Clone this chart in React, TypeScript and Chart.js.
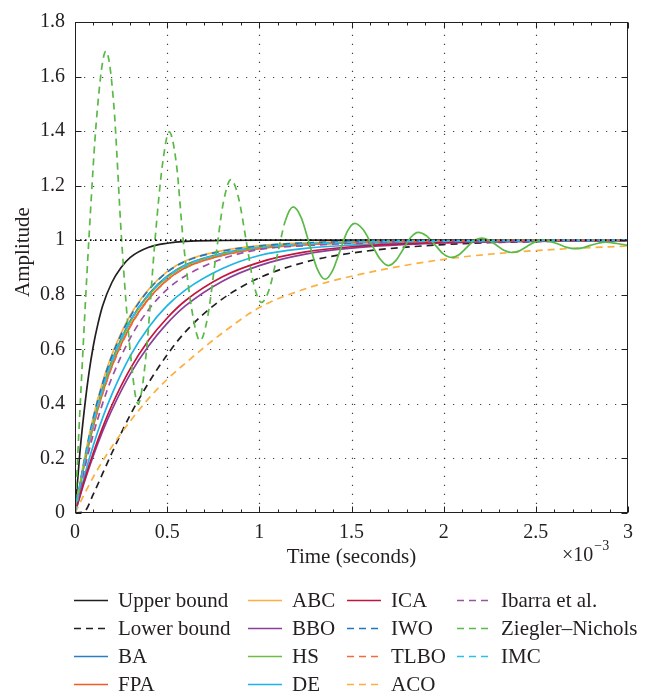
import React, { useEffect, useRef } from "react";
import { Chart, registerables } from "chart.js";

Chart.register(...registerables);

// ---------- data (time in ms, i.e. ×10^-3 s) ----------
const timeMs = [0, 0.05, 0.1, 0.15, 0.2, 0.3, 0.4, 0.5, 0.6, 0.8, 1.0, 1.25, 1.5, 2.0, 2.5, 3.0];

const upperTime = [0, 0.025, 0.05, 0.075, 0.1, 0.125, 0.15, 0.2, 0.25, 0.3, 0.4, 0.5, 0.6, 0.8, 1.0, 3.0];
const upperBound = [0, 0.21, 0.375, 0.51, 0.615, 0.695, 0.76, 0.845, 0.9, 0.937, 0.974, 0.989, 0.996, 0.999, 1, 1];

const lowerBound = [0, 0.005, 0.07, 0.145, 0.22, 0.36, 0.478, 0.58, 0.665, 0.785, 0.862, 0.92, 0.953, 0.984, 0.995, 0.998];
const ba = [0, 0.185, 0.335, 0.458, 0.558, 0.705, 0.803, 0.868, 0.91, 0.952, 0.975, 0.987, 0.993, 0.997, 0.999, 1.0];
const fpa = [0, 0.176, 0.32, 0.44, 0.538, 0.686, 0.786, 0.855, 0.9, 0.945, 0.97, 0.984, 0.991, 0.997, 0.999, 1.0];
const abc = [0, 0.195, 0.355, 0.48, 0.58, 0.725, 0.82, 0.885, 0.925, 0.962, 0.98, 0.99, 0.995, 0.998, 0.999, 1.0];
const bbo = [0, 0.112, 0.211, 0.3, 0.378, 0.51, 0.613, 0.695, 0.76, 0.85, 0.907, 0.949, 0.971, 0.99, 0.996, 0.999];
const hs = [0, 0.18, 0.33, 0.452, 0.552, 0.7, 0.798, 0.864, 0.907, 0.95, 0.973, 0.986, 0.992, 0.997, 0.999, 1.0];
const de = [0, 0.133, 0.249, 0.349, 0.435, 0.576, 0.681, 0.76, 0.818, 0.896, 0.944, 0.97, 0.982, 0.993, 0.997, 0.999];
const ica = [0, 0.118, 0.222, 0.314, 0.395, 0.529, 0.634, 0.715, 0.779, 0.866, 0.919, 0.957, 0.976, 0.992, 0.997, 0.999];
const iwo = [0, 0.19, 0.35, 0.475, 0.575, 0.72, 0.818, 0.883, 0.923, 0.96, 0.979, 0.99, 0.995, 0.998, 0.999, 1.0];
const tlbo = [0, 0.174, 0.317, 0.437, 0.535, 0.683, 0.784, 0.853, 0.899, 0.944, 0.969, 0.983, 0.991, 0.997, 0.999, 1.0];
const aco = [0, 0.068, 0.133, 0.19, 0.243, 0.337, 0.42, 0.49, 0.55, 0.66, 0.753, 0.822, 0.868, 0.93, 0.962, 0.979];
const ibarra = [0, 0.157, 0.29, 0.402, 0.496, 0.642, 0.746, 0.82, 0.87, 0.932, 0.966, 0.98, 0.988, 0.995, 0.998, 0.999];
const imc = [0, 0.183, 0.333, 0.455, 0.555, 0.703, 0.8, 0.866, 0.908, 0.951, 0.974, 0.986, 0.993, 0.997, 0.999, 1.0];

const znTime = [
  0, 0.03, 0.075, 0.12, 0.168, 0.21, 0.253, 0.3, 0.342, 0.385, 0.434, 0.475, 0.511, 0.55, 0.587, 0.635, 0.678,
  0.72, 0.762, 0.804, 0.846, 0.887, 0.929, 0.97, 1.012, 1.055, 1.098, 1.141, 1.184, 1.227, 1.27, 1.313, 1.356,
  1.396, 1.437, 1.478, 1.518, 1.563, 1.609, 1.655, 1.7, 1.74, 1.781, 1.822, 1.862, 1.907, 1.953, 1.998, 2.043,
  2.083, 2.124, 2.164, 2.205, 2.246, 2.287, 2.327, 2.368, 2.411, 2.454, 2.497, 2.54, 2.583, 2.625, 2.668, 2.71,
  2.753, 2.795, 2.838, 2.88, 2.94, 3.0,
];
const znAmplitude = [
  0, 0.42, 1.0, 1.47, 1.693, 1.5, 1.0, 0.59, 0.4, 0.576, 1.0, 1.28, 1.397, 1.28, 1.0, 0.74, 0.632,
  0.72, 0.93, 1.135, 1.222, 1.156, 0.997, 0.838, 0.772, 0.823, 0.947, 1.071, 1.122, 1.083, 0.99, 0.897, 0.857,
  0.887, 0.96, 1.033, 1.062, 1.039, 0.985, 0.931, 0.907, 0.925, 0.968, 1.011, 1.029, 1.016, 0.983, 0.95, 0.937,
  0.947, 0.9725, 0.998, 1.008, 1.0, 0.9815, 0.963, 0.955, 0.961, 0.978, 0.994, 1.0, 0.995, 0.985, 0.974, 0.969,
  0.972, 0.981, 0.989, 0.993, 0.988, 0.981,
];

const refTime = [0, 3];
const refLevel = [1, 1];

const xTicks = [0, 0.5, 1, 1.5, 2, 2.5, 3];
const yTicks = [0, 0.2, 0.4, 0.6, 0.8, 1, 1.2, 1.4, 1.6, 1.8];

// ---------- styling ----------
const serif = '"Liberation Serif", "Times New Roman", serif';
const ink = "#231f20";
const DASH = [7, 5];

type Series = { label: string; t: number[]; v: number[]; color: string; dash?: number[]; legend: boolean };

const series: Series[] = [
  { label: "Upper bound", t: upperTime, v: upperBound, color: "#231f20", legend: true },
  { label: "Lower bound", t: timeMs, v: lowerBound, color: "#231f20", dash: DASH, legend: true },
  { label: "BA", t: timeMs, v: ba, color: "#2a7fc4", legend: true },
  { label: "FPA", t: timeMs, v: fpa, color: "#f15a29", legend: true },
  { label: "ABC", t: timeMs, v: abc, color: "#fbb040", legend: true },
  { label: "BBO", t: timeMs, v: bbo, color: "#8b3e98", legend: true },
  { label: "HS", t: timeMs, v: hs, color: "#6bbd45", legend: true },
  { label: "DE", t: timeMs, v: de, color: "#1cb5e5", legend: true },
  { label: "ICA", t: timeMs, v: ica, color: "#c4143c", legend: true },
  { label: "IWO", t: timeMs, v: iwo, color: "#1f77c0", dash: DASH, legend: true },
  { label: "TLBO", t: timeMs, v: tlbo, color: "#f26b3a", dash: DASH, legend: true },
  { label: "ACO", t: timeMs, v: aco, color: "#fbb040", dash: DASH, legend: true },
  { label: "Ibarra et al.", t: timeMs, v: ibarra, color: "#9b51a3", dash: DASH, legend: true },
  { label: "Ziegler\u2013Nichols", t: znTime, v: znAmplitude, color: "#5bb947", dash: DASH, legend: true },
  { label: "IMC", t: timeMs, v: imc, color: "#29c0ea", dash: DASH, legend: true },
  { label: "Reference", t: refTime, v: refLevel, color: "#000000", dash: [1.5, 3.5], legend: false },
];

const legendColX = [74, 248, 347, 457];
const legendRowY = [600, 628, 656, 684];

function strokeLine(ctx: CanvasRenderingContext2D, x1: number, y1: number, x2: number, y2: number) {
  ctx.beginPath();
  ctx.moveTo(x1, y1);
  ctx.lineTo(x2, y2);
  ctx.stroke();
}

function fmtTick(v: any) {
  return String(+Number(v).toFixed(2));
}

const matlabPlugin = {
  id: "matlabLook",
  beforeDatasetsDraw(chart: any) {
    const { ctx, chartArea: a, scales } = chart;
    ctx.save();
    ctx.strokeStyle = "rgba(35,31,32,0.85)";
    ctx.lineWidth = 1.2;
    ctx.setLineDash([1.2, 7.8]);
    for (const v of xTicks) {
      if (v <= 0 || v >= 3) continue;
      const px = Math.round(scales.x.getPixelForValue(v)) + 0.5;
      strokeLine(ctx, px, a.bottom, px, a.top);
    }
    for (const v of yTicks) {
      if (v <= 0 || v >= 1.8) continue;
      const py = Math.round(scales.y.getPixelForValue(v)) + 0.5;
      strokeLine(ctx, a.left, py, a.right, py);
    }
    ctx.restore();
  },
  afterDatasetsDraw(chart: any) {
    const { ctx, chartArea: a, scales } = chart;
    ctx.save();
    ctx.strokeStyle = ink;
    ctx.lineWidth = 1;
    ctx.setLineDash([]);
    const L = Math.round(a.left) + 0.5;
    const R = Math.round(a.right) - 0.5;
    const T = Math.round(a.top) + 0.5;
    const B = Math.round(a.bottom) - 0.5;
    ctx.strokeRect(L, T, R - L, B - T);
    for (let i = 0; i < xTicks.length; i++) {
      const px = Math.round(scales.x.getPixelForValue(xTicks[i])) + 0.5;
      strokeLine(ctx, px, B, px, B - 6);
      strokeLine(ctx, px, T, px, T + 6);
      if (i < xTicks.length - 1) {
        const step = (xTicks[i + 1] - xTicks[i]) / 5;
        for (let k = 1; k < 5; k++) {
          const mx = Math.round(scales.x.getPixelForValue(xTicks[i] + k * step)) + 0.5;
          strokeLine(ctx, mx, B, mx, B - 3);
          strokeLine(ctx, mx, T, mx, T + 3);
        }
      }
    }
    for (const v of yTicks) {
      const py = Math.round(scales.y.getPixelForValue(v)) + 0.5;
      strokeLine(ctx, L, py, L + 6, py);
      strokeLine(ctx, R, py, R - 6, py);
    }
    ctx.restore();
  },
  afterDraw(chart: any) {
    const { ctx, chartArea: a } = chart;
    ctx.save();
    ctx.fillStyle = ink;
    ctx.font = `21px ${serif}`;
    ctx.textAlign = "center";
    ctx.textBaseline = "middle";
    ctx.fillText("Time (seconds)", (a.left + a.right) / 2, 557);
    ctx.save();
    ctx.translate(23, 252);
    ctx.rotate(-Math.PI / 2);
    ctx.fillText("Amplitude", 0, 0);
    ctx.restore();
    ctx.textAlign = "left";
    ctx.font = `20px ${serif}`;
    ctx.fillText("\u00d710", 562, 556);
    const w = ctx.measureText("\u00d710").width;
    ctx.font = `14px ${serif}`;
    ctx.fillText("\u22123", 562 + w + 1, 546);
    ctx.font = `21px ${serif}`;
    let slot = 0;
    chart.data.datasets.forEach((ds: any) => {
      if (!ds.inLegend) return;
      const col = Math.floor(slot / 4);
      const row = slot % 4;
      slot++;
      const x0 = legendColX[col];
      const y0 = legendRowY[row];
      ctx.strokeStyle = ds.borderColor;
      ctx.lineWidth = 1.7;
      ctx.setLineDash(ds.borderDash || []);
      strokeLine(ctx, x0, y0 + 0.5, x0 + 34, y0 + 0.5);
      ctx.setLineDash([]);
      ctx.fillStyle = ink;
      ctx.textAlign = "left";
      ctx.textBaseline = "middle";
      ctx.fillText(ds.label, x0 + 44, y0 + 1);
    });
    ctx.restore();
  },
};

export default function App() {
  const canvasRef = useRef<HTMLCanvasElement | null>(null);

  useEffect(() => {
    if (!canvasRef.current) return;
    const n = series.length;
    const datasets = series.map((s, i) => ({
      label: s.label,
      data: s.t.map((t, k) => ({ x: t, y: s.v[k] })),
      borderColor: s.color,
      backgroundColor: s.color,
      borderDash: s.dash || [],
      borderWidth: s.legend ? 1.7 : 1.8,
      pointRadius: 0,
      pointHoverRadius: 0,
      fill: false,
      cubicInterpolationMode: "monotone" as const,
      order: n - i,
      inLegend: s.legend,
      segment:
        s.label === "Ziegler\u2013Nichols"
          ? { borderDash: (ctx: any) => (ctx.p0.parsed.x >= 1.1 ? [] : undefined) }
          : undefined,
    }));

    const chart = new Chart(canvasRef.current, {
      type: "line",
      data: { datasets } as any,
      options: {
        animation: false,
        responsive: false,
        devicePixelRatio: 1,
        layout: { padding: { left: 0, right: 17, top: 12, bottom: 0 } },
        plugins: { legend: { display: false }, tooltip: { enabled: false } },
        scales: {
          x: {
            type: "linear",
            min: 0,
            max: 3,
            grid: { display: false },
            border: { display: false },
            ticks: {
              color: ink,
              font: { family: serif, size: 20 },
              padding: 0,
              maxRotation: 0,
              autoSkip: false,
              callback: fmtTick,
            },
            afterBuildTicks: (s: any) => {
              s.ticks = xTicks.map((v) => ({ value: v }));
            },
            afterFit: (s: any) => {
              s.height = 184;
            },
          },
          y: {
            type: "linear",
            min: 0,
            max: 1.8,
            grid: { display: false, drawTicks: false },
            border: { display: false },
            ticks: {
              color: ink,
              font: { family: serif, size: 20 },
              padding: 10,
              autoSkip: false,
              callback: fmtTick,
            },
            afterBuildTicks: (s: any) => {
              s.ticks = yTicks.map((v) => ({ value: v }));
            },
            afterFit: (s: any) => {
              s.width = 75;
            },
          },
        },
      } as any,
      plugins: [matlabPlugin],
    });
    return () => chart.destroy();
  }, []);

  return (
    <div style={{ position: "fixed", left: 0, top: 0, width: 645, height: 697, background: "#ffffff" }}>
      <canvas ref={canvasRef} width={645} height={697} style={{ display: "block", width: 645, height: 697 }} />
    </div>
  );
}
